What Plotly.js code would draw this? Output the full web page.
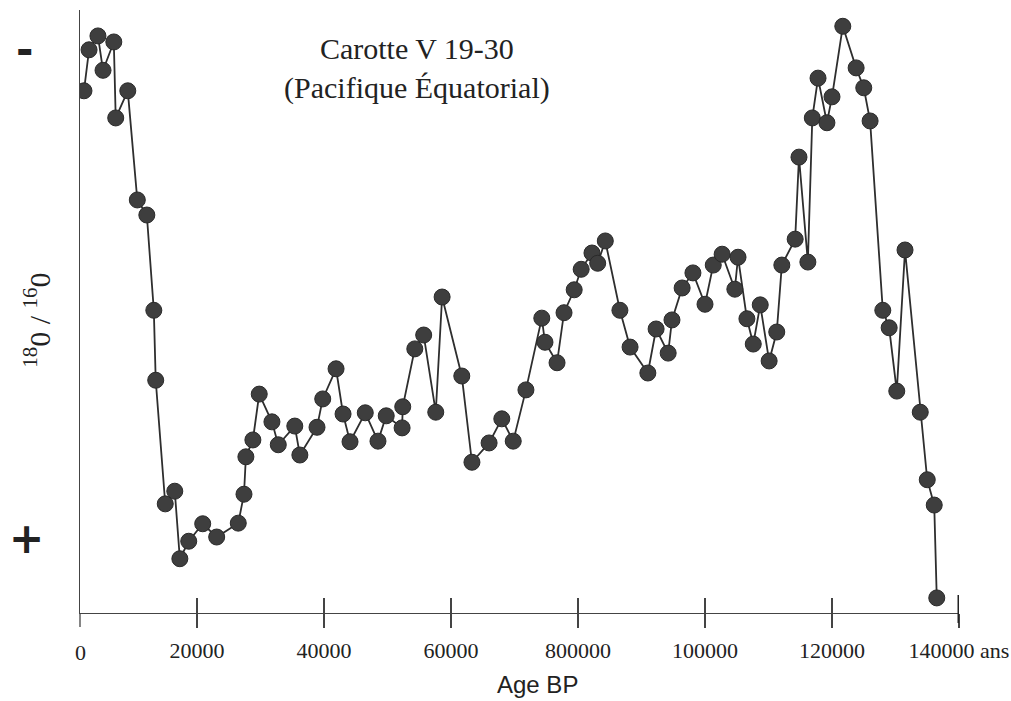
<!DOCTYPE html>
<html>
<head>
<meta charset="utf-8">
<script src="https://cdn.plot.ly/plotly-3.0.1.min.js"></script>
<style>
  html, body { margin: 0; padding: 0; background: #ffffff; }
  #chart { width: 1011px; height: 701px; }
</style>
</head>
<body>
<div id="chart"></div>
<script>
// Age BP (years)
const ages = [
  2200, 3000, 4400, 5200, 6900, 7200, 9100, 10600, 12100, 13200,
  13500, 15000, 16500, 17300, 18700, 20900, 23100, 26500, 27400, 27700,
  28800, 29800, 31800, 32800, 35400, 36200, 38900, 39800, 41900, 43000,
  44100, 46500, 48500, 49800, 52300, 52400, 54300, 55700, 57600, 58600,
  61700, 63300, 66000, 68000, 69800, 71800, 74300, 74800, 76700, 77800,
  79400, 80500, 82200, 83100, 84300, 86600, 88200, 91000, 92300, 94200,
  94800, 96400, 98100, 100000, 101300, 102700, 104700, 105200, 106600, 107600,
  108700, 110100, 111300, 112100, 114200, 114800, 116200, 116900, 117800, 119200,
  120000, 121700, 123800, 125000, 126000, 128000, 129000, 130200, 131500, 133900,
  135000, 136100, 136500
];
// 18O/16O, relative units (top = "-", bottom = "+")
const ratio = [
  86.6, 93.4, 95.7, 90.0, 94.7, 82.1, 86.6, 68.5, 66.0, 50.2,
  38.6, 18.1, 20.2, 9.0, 11.9, 14.8, 12.6, 14.9, 19.7, 25.9,
  28.7, 36.3, 31.7, 27.9, 31.0, 26.2, 30.8, 35.5, 40.5, 33.0,
  28.4, 33.2, 28.5, 32.7, 30.7, 34.2, 43.8, 46.1, 33.3, 52.4,
  39.3, 25.0, 28.2, 32.2, 28.5, 37.0, 48.9, 44.9, 41.5, 49.8,
  53.6, 57.0, 59.7, 58.0, 61.7, 50.2, 44.1, 39.8, 47.1, 43.1,
  48.6, 53.9, 56.4, 51.2, 57.7, 59.5, 53.7, 59.0, 48.8, 44.6,
  51.1, 41.8, 46.6, 57.7, 62.0, 75.6, 58.2, 82.1, 88.7, 81.3,
  85.6, 97.3, 90.4, 87.1, 81.6, 50.2, 47.3, 36.8, 60.2, 33.3,
  22.1, 17.9, 2.5
];
const tickAges = [20000, 40000, 60000, 80000, 100000, 120000, 140000];
const tickLabels = ["20000", "40000", "60000", "800000", "100000", "120000", "140000 ans"];
const originLabel = "0";
const titleLines = ["Carotte V 19-30", "(Pacifique Équatorial)"];
const xTitle = "Age BP";
const yTitle = "<sup>18</sup>0 / <sup>16</sup>0";
const yTop = "-";
const yBottom = "+";

const ink = "#2e2e2e";
const serif = "Liberation Serif, Times New Roman, serif";

const trace = {
  x: ages, y: ratio, type: "scatter", mode: "lines+markers",
  line: { color: ink, width: 1.8 },
  marker: { size: 16, color: "#3e3e3e", line: { color: "#2a2a2a", width: 1 } },
  hoverinfo: "x+y", showlegend: false
};
// invisible copy so the overlay axis (upper half of the ticks) gets drawn
const ghost = {
  x: ages, y: ratio, type: "scatter", mode: "markers", xaxis: "x2",
  marker: { size: 1, opacity: 0 }, hoverinfo: "skip", showlegend: false
};

const xr = [1575, 140000];
const layout = {
  width: 1011, height: 701,
  margin: { l: 80, r: 52, t: 10, b: 88 },
  paper_bgcolor: "#ffffff", plot_bgcolor: "#ffffff",
  xaxis: {
    range: xr, showgrid: false, zeroline: false,
    showline: true, linecolor: "#444", linewidth: 1.3,
    tickmode: "array", tickvals: tickAges, ticktext: tickLabels,
    ticks: "outside", ticklen: 14, tickwidth: 1.2, tickcolor: "#444",
    ticklabelstandoff: 3,
    tickfont: { family: serif, size: 22, color: "#222" },
    fixedrange: true
  },
  xaxis2: {
    overlaying: "x", anchor: "y", range: xr, showgrid: false, zeroline: false,
    showline: false, showticklabels: false,
    tickmode: "array", tickvals: tickAges,
    ticks: "inside", ticklen: 15, tickwidth: 1.2, tickcolor: "#444",
    fixedrange: true
  },
  yaxis: {
    range: [0, 100], showgrid: false, zeroline: false,
    showline: true, linecolor: "#444", linewidth: 1.3,
    showticklabels: false, ticks: "", fixedrange: true
  },
  shapes: [
    { type: "line", xref: "paper", yref: "paper", x0: 0, x1: 0, y0: 0, y1: -0.0232,
      line: { color: "#444", width: 1.3 } },
    { type: "line", xref: "x", yref: "paper", x0: tickAges[tickAges.length - 1], x1: tickAges[tickAges.length - 1],
      y0: 0.03, y1: -0.0166, line: { color: "#222", width: 3 } }
  ],
  annotations: [
    { text: titleLines.join("<br>"), xref: "paper", yref: "paper", x: 0.383, y: 0.903,
      xanchor: "center", yanchor: "middle", showarrow: false,
      font: { family: serif, size: 30, color: "#222" } },
    { text: xTitle, xref: "paper", yref: "paper", x: 0.521, y: -0.1443,
      xanchor: "center", yanchor: "bottom", showarrow: false,
      font: { family: "Liberation Sans, Arial, sans-serif", size: 24, color: "#222" } },
    { text: originLabel, xref: "paper", yref: "paper", x: 0, y: -0.0647,
      xanchor: "center", yanchor: "middle", showarrow: false,
      font: { family: serif, size: 22, color: "#222" } },
    { text: yTitle, xref: "paper", yref: "paper", x: -0.049, y: 0.486,
      xanchor: "center", yanchor: "middle", showarrow: false, textangle: -90,
      font: { family: serif, size: 30, color: "#222" } },
    { text: yTop, xref: "paper", yref: "paper", x: -0.0626, y: 0.934,
      xanchor: "center", yanchor: "middle", showarrow: false,
      font: { family: "DejaVu Sans, sans-serif", size: 42, color: "#222", weight: "bold" } },
    { text: yBottom, xref: "paper", yref: "paper", x: -0.0603, y: 0.124,
      xanchor: "center", yanchor: "middle", showarrow: false,
      font: { family: "DejaVu Sans, sans-serif", size: 42, color: "#222", weight: "bold" } }
  ]
};

Plotly.newPlot("chart", [trace, ghost], layout, { displayModeBar: false, staticPlot: true });
</script>
</body>
</html>
